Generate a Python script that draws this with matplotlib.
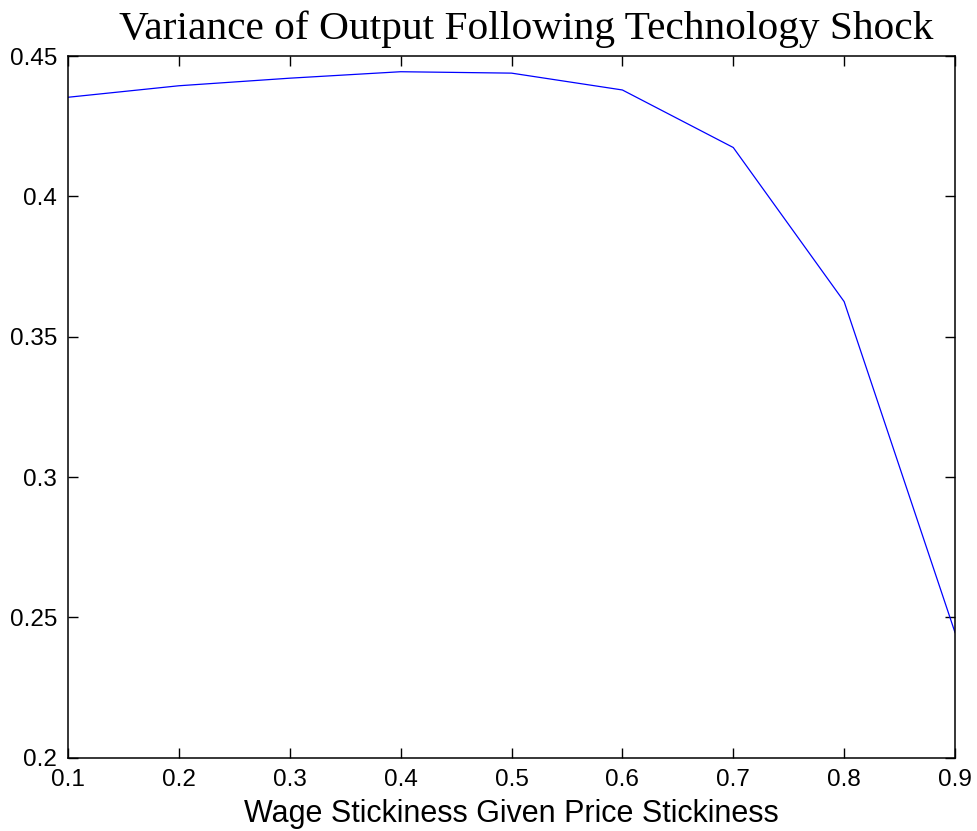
import matplotlib.pyplot as plt

# wage stickiness values and the resulting output variance
stickiness = [0.1, 0.2, 0.3, 0.4, 0.5, 0.6, 0.7, 0.8, 0.9]
variance = [0.4353, 0.4394, 0.4421, 0.4444, 0.4439, 0.4379, 0.4174, 0.3625, 0.2446]

xticks = [0.1, 0.2, 0.3, 0.4, 0.5, 0.6, 0.7, 0.8, 0.9]
yticks = [0.2, 0.25, 0.3, 0.35, 0.4, 0.45]

plt.rcParams['font.family'] = ['Liberation Sans', 'DejaVu Sans']

fig = plt.figure(figsize=(9.77, 8.31), dpi=100)
ax = fig.add_axes([0.0696, 0.0882, 0.9079, 0.8444])

ax.plot(stickiness, variance, color='#0000ff', lw=0.9)

ax.set_xlim(0.1, 0.9)
ax.set_ylim(0.2, 0.45)
ax.set_xticks(xticks)
ax.set_xticklabels([f"{t:g}" for t in xticks])
ax.set_yticks(yticks)
ax.set_yticklabels([f"{t:g}" for t in yticks])
ax.tick_params(direction='in', top=True, right=True, length=7, width=1,
               labelsize=17.5)
ax.tick_params(axis='x', pad=8)
ax.tick_params(axis='y', pad=8)
for s in ax.spines.values():
    s.set_linewidth(1.1)

ax.set_xlabel('Wage Stickiness Given Price Stickiness', fontsize=22, labelpad=6)
ax.set_title('Variance of Output Following Technology Shock',
             fontsize=29.8, family='Liberation Serif', pad=12, x=0.516)

fig.savefig('out.png', dpi=100)
